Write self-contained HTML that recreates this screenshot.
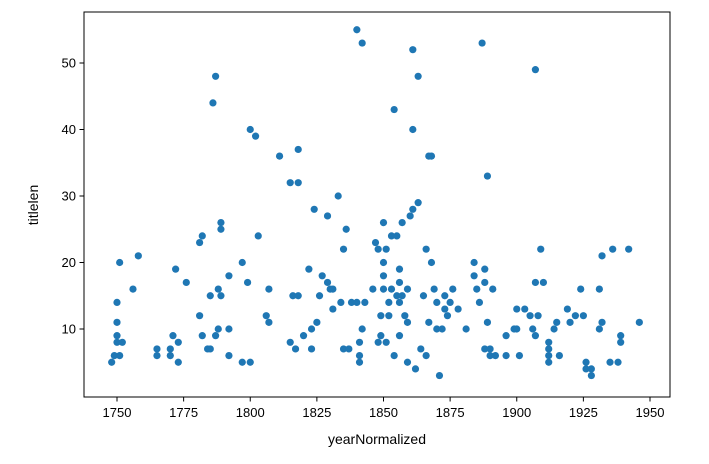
<!DOCTYPE html>
<html><head><meta charset="utf-8"><style>
body{margin:0;background:#fff;}
svg{display:block;font-family:"Liberation Sans",sans-serif;}
</style></head><body>
<svg id="chart" width="709" height="464">
<rect x="0" y="0" width="709" height="464" fill="#fff"></rect>
<g id="marks"></g>
<rect x="84" y="12" width="586" height="385" fill="none" stroke="#000" stroke-width="1"></rect>
<g id="axes"></g>
<text x="377" y="444" text-anchor="middle" font-size="14">yearNormalized</text>
<text x="38" y="205" text-anchor="middle" font-size="14" transform="rotate(-90 38 205)">titlelen</text>
</svg>
<script>
const xTicks=[1750,1775,1800,1825,1850,1875,1900,1925,1950];
const yTicks=[10,20,30,40,50];
const years=[1748,1749,1750,1750,1750,1750,1751,1751,1752,1756,1758,1765,1765,1770,1770,1771,1772,1773,1773,1776,1781,1781,1782,1782,1784,1785,1785,1786,1787,1787,1788,1788,1789,1789,1789,1792,1792,1792,1797,1797,1799,1800,1800,1802,1803,1806,1807,1807,1811,1815,1815,1816,1817,1818,1818,1818,1820,1822,1823,1823,1824,1825,1826,1827,1829,1829,1830,1831,1831,1833,1834,1835,1835,1836,1837,1838,1840,1840,1841,1841,1841,1842,1842,1843,1846,1847,1848,1848,1849,1849,1850,1850,1850,1850,1851,1851,1852,1852,1853,1853,1854,1854,1855,1855,1856,1856,1856,1856,1857,1857,1858,1859,1859,1859,1860,1861,1861,1861,1862,1863,1863,1864,1865,1866,1866,1867,1867,1868,1868,1869,1870,1870,1871,1872,1873,1873,1874,1875,1876,1878,1881,1884,1884,1885,1886,1887,1888,1888,1888,1889,1889,1890,1890,1891,1892,1896,1896,1899,1900,1900,1901,1903,1905,1906,1907,1907,1907,1908,1909,1910,1912,1912,1912,1912,1914,1915,1916,1919,1920,1922,1924,1925,1926,1926,1928,1928,1931,1931,1932,1932,1935,1936,1938,1939,1939,1942,1946];
const titleLens=[5,6,8,9,11,14,20,6,8,16,21,6,7,7,6,9,19,5,8,17,12,23,24,9,7,7,15,44,48,9,10,16,26,25,15,18,10,6,20,5,17,5,40,39,24,12,11,16,36,32,8,15,7,32,37,15,9,19,7,10,28,11,15,18,17,27,16,13,16,30,14,22,7,25,7,14,55,14,5,6,8,53,10,14,16,23,8,22,9,12,26,20,18,16,22,8,14,12,24,16,43,6,24,15,14,19,17,9,26,15,12,11,5,16,27,52,28,40,4,29,48,7,15,22,6,36,11,36,20,16,10,14,3,10,13,15,12,14,16,13,10,20,18,16,14,53,19,17,7,33,11,6,7,16,6,9,6,10,13,10,6,13,12,10,9,17,49,12,22,17,5,6,7,8,10,11,6,13,11,12,16,12,4,5,3,4,10,16,21,11,5,22,5,9,8,22,11];
const NS='http://www.w3.org/2000/svg';
function xs(v){return 117+(v-1750)*2.665;}
function ys(v){return 395.5-v*6.65;}
const marks=document.getElementById('marks');
for(let i=0;i<years.length;i++){
  const c=document.createElementNS(NS,'circle');
  c.setAttribute('cx',xs(years[i]));c.setAttribute('cy',ys(titleLens[i]));
  c.setAttribute('r',3.6);c.setAttribute('fill','#1f77b4');
  
  
  marks.appendChild(c);
}
const axes=document.getElementById('axes');
xTicks.forEach(t=>{
  const l=document.createElementNS(NS,'line');
  l.setAttribute('x1',xs(t));l.setAttribute('x2',xs(t));l.setAttribute('y1',397);l.setAttribute('y2',401.5);l.setAttribute('stroke','#000');
  
  
  axes.appendChild(l);
  const tx=document.createElementNS(NS,'text');
  tx.setAttribute('x',xs(t));tx.setAttribute('y',417);tx.setAttribute('text-anchor','middle');tx.setAttribute('font-size','13');
  tx.textContent=t;
  
  
  axes.appendChild(tx);
});
yTicks.forEach(t=>{
  const l=document.createElementNS(NS,'line');
  l.setAttribute('x1',79.5);l.setAttribute('x2',84);l.setAttribute('y1',ys(t));l.setAttribute('y2',ys(t));l.setAttribute('stroke','#000');
  
  
  axes.appendChild(l);
  const tx=document.createElementNS(NS,'text');
  tx.setAttribute('x',76);tx.setAttribute('y',ys(t)+4.5);tx.setAttribute('text-anchor','end');tx.setAttribute('font-size','13');
  tx.textContent=t;
  
  
  axes.appendChild(tx);
});
</script>
</body></html>
